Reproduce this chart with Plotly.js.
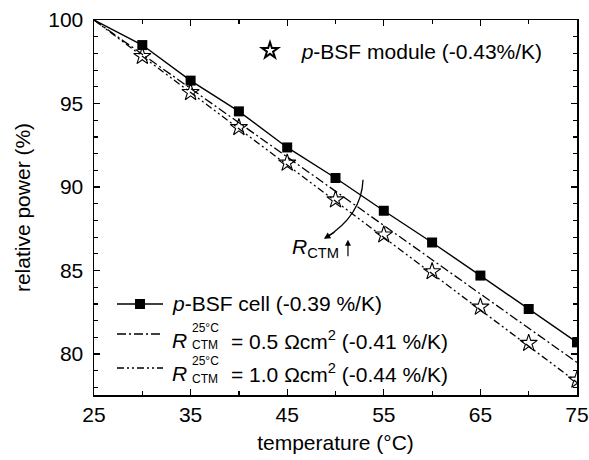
<!DOCTYPE html>
<html>
<head>
<meta charset="utf-8">
<script src="https://cdn.plot.ly/plotly-3.0.1.min.js"></script>
<style>html,body{margin:0;padding:0;background:#fff;}#chart{width:589px;height:460px;}</style>
</head>
<body>
<div id="chart"></div>
<script>
// ---- data ----
const temperature = [25, 30, 35, 40, 45, 50, 55, 60, 65, 70, 75];
const cellPower = [100, 98.50, 96.37, 94.53, 92.37, 90.54, 88.58, 86.68, 84.70, 82.70, 80.70];
const ctm05Power = [100, 97.95, 95.90, 93.85, 91.80, 89.75, 87.70, 85.65, 83.60, 81.55, 79.50];
const ctm10Power = [100, 97.83, 95.66, 93.49, 91.32, 89.15, 86.98, 84.81, 82.64, 80.47, 78.30];
const moduleTemp = [30, 35, 40, 45, 50, 55, 60, 65, 70, 75];
const modulePower = [97.83, 95.67, 93.57, 91.44, 89.24, 87.14, 84.94, 82.82, 80.65, 78.45];
const xTickVals = [25, 35, 45, 55, 65, 75];
const yTickVals = [80, 85, 90, 95, 100];

const FONT = 'Liberation Sans, Arial, Helvetica, sans-serif';
const FS = 21;
const SS = 12;

// plot-area pixel helpers for legend placement (layout only)
const L = 94, W = 483, T = 20, H = 375;
const px = v => (v - L) / W;
const py = v => (T + H - v) / H;

const traces = [
  {x: temperature, y: ctm10Power, mode: 'lines', showlegend: false,
   line: {color: '#000', width: 1.3, dash: '7px,3px,2px,3px,2px,3px'}},
  {x: temperature, y: ctm05Power, mode: 'lines', showlegend: false,
   line: {color: '#000', width: 1.3, dash: '9px,3px,2px,3px'}},
  {x: temperature, y: cellPower, mode: 'lines+markers', showlegend: false,
   line: {color: '#000', width: 1.4},
   marker: {symbol: 'square', color: '#000', opacity: 1, line: {width: 0},
            size: temperature.map((t, i) => i === 0 ? 0 : 10)}},
  {x: moduleTemp, y: modulePower, mode: 'markers', name: '\u00a0\u00a0<i>p</i>-BSF module (-0.43%/K)',
   marker: {symbol: 'star-open', color: '#000', size: 13, line: {width: 1.1, color: '#000'}}}
];

const dashes = ['solid', '9px,3px,2px,3px', '7px,3px,2px,3px,2px,3px'];
const rowY = [304, 334, 368];
const shapes = [];
rowY.forEach((yy, i) => {
  shapes.push({type: 'line', xref: 'paper', yref: 'paper', x0: px(117), x1: px(163), y0: py(yy), y1: py(yy),
    line: {color: '#000', width: 1.4, dash: dashes[i]}});
});
shapes.push({type: 'rect', xref: 'paper', yref: 'paper', x0: px(135), x1: px(145), y0: py(299), y1: py(309),
  fillcolor: '#000', line: {width: 0}});
// curved arrow indicating increasing R_CTM
shapes.push({type: 'path', xref: 'x', yref: 'y', path: 'M 52.85,90.44 Q 52.71,88.31 48.95,86.95',
  line: {color: '#000', width: 1.3}});

const ann = (x, y, text, size, extra) => Object.assign({xref: 'paper', yref: 'paper', x: x, y: y, text: text,
  showarrow: false, xanchor: 'left', yanchor: 'middle', font: {family: FONT, size: size, color: '#000'}}, extra || {});

const annotations = [
  ann(px(170), py(303), '<i>p</i>-BSF cell (-0.39 %/K)', FS),
  ann(px(170), py(340), '<i>R</i>', FS),
  ann(px(190), py(327.5), '25°C', SS),
  ann(px(190), py(345), 'CTM', SS),
  ann(px(229), py(340), '= 0.5 Ωcm<sup>2</sup> (-0.41 %/K)', FS),
  ann(px(170), py(373), '<i>R</i>', FS),
  ann(px(190), py(361), '25°C', SS),
  ann(px(190), py(378.5), 'CTM', SS),
  ann(px(229), py(373), '= 1.0 Ωcm<sup>2</sup> (-0.44 %/K)', FS),
  ann(px(290), py(248), '<i>R</i><sub>CTM</sub>', FS),
  {xref: 'x', yref: 'y', x: 48.8, y: 86.9, ax: 12, ay: -7.5, text: '', showarrow: true,
   arrowhead: 2, arrowsize: 1, arrowwidth: 1.3, arrowcolor: '#000'},
  {xref: 'x', yref: 'y', x: 51.29, y: 86.84, ax: 0, ay: 18, text: '', showarrow: true,
   arrowhead: 2, arrowsize: 1, arrowwidth: 1.2, arrowcolor: '#000'}
];

const axisCommon = {
  showgrid: false, zeroline: false, showline: true, linecolor: '#000', linewidth: 1.5,
  ticks: 'inside', ticklen: 6, tickwidth: 1.3, tickcolor: '#000', mirror: 'ticks',
  tickfont: {family: FONT, size: FS, color: '#000'}
};

const layout = {
  width: 589, height: 460,
  margin: {l: L, r: 589 - L - W, t: T, b: 460 - T - H},
  paper_bgcolor: '#fff', plot_bgcolor: '#fff',
  font: {family: FONT, size: FS, color: '#000'},
  xaxis: Object.assign({}, axisCommon, {
    range: [25, 75], tickmode: 'array', tickvals: xTickVals, ticktext: xTickVals.map(String),
    minor: {dtick: 5, tick0: 25, ticks: 'inside', ticklen: 4, tickcolor: '#000', tickwidth: 1.2},
    title: {text: 'temperature (°C)', font: {family: FONT, size: FS, color: '#000'}, standoff: 10}
  }),
  yaxis: Object.assign({}, axisCommon, {
    range: [77.55, 100], tickmode: 'array', tickvals: yTickVals, ticktext: yTickVals.map(String),
    ticklabelstandoff: 5,
    minor: {dtick: 1, tick0: 80, ticks: 'inside', ticklen: 4, tickcolor: '#000', tickwidth: 1.2},
    title: {text: 'relative power (%)', font: {family: FONT, size: FS, color: '#000'}, standoff: 12}
  }),
  showlegend: true,
  legend: {x: px(250), y: py(51), xanchor: 'left', yanchor: 'middle', bgcolor: 'rgba(0,0,0,0)',
    borderwidth: 0, itemsizing: 'constant', font: {family: FONT, size: FS, color: '#000'}},
  shapes: shapes,
  annotations: annotations
};

Plotly.newPlot('chart', traces, layout, {staticPlot: true, displayModeBar: false});
</script>
</body>
</html>
